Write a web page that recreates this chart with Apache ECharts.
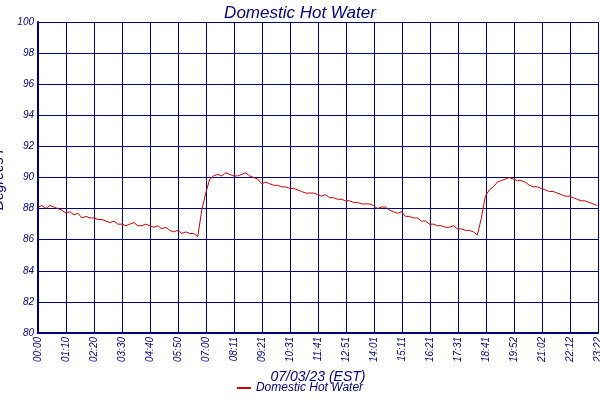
<!DOCTYPE html>
<html>
<head>
<meta charset="utf-8">
<script src="https://cdn.jsdelivr.net/npm/echarts@6/dist/echarts.min.js"></script>
<style>html,body{margin:0;padding:0;background:#fff}#chart{width:600px;height:400px}</style>
</head>
<body>
<div id="chart"></div>
<script>
// x tick labels, one per grid line (every ~70.1 minutes)
var timeLabels = ['00:00','01:10','02:20','03:30','04:40','05:50','07:00','08:11','09:21','10:31',
  '11:41','12:51','14:01','15:11','16:21','17:31','18:41','19:52','21:02','22:12','23:22'];
var yLabels = ['80','82','84','86','88','90','92','94','96','98','100'];
var sampleMinutes = 10;
// temperature, one reading per 10 minutes from 00:00
var temps = [
  88.1,88.2,88.0,88.2,88.1,88.0,87.9,87.7,87.8,87.6,
  87.7,87.4,87.5,87.4,87.4,87.3,87.3,87.2,87.1,87.2,
  87.0,87.0,86.9,87.0,87.1,86.9,86.9,87.0,86.9,86.8,
  86.9,86.7,86.8,86.6,86.5,86.6,86.4,86.5,86.4,86.4,
  86.2,87.9,89.0,89.9,90.1,90.2,90.1,90.3,90.2,90.1,
  90.1,90.2,90.3,90.1,90.0,89.9,89.6,89.7,89.6,89.5,
  89.5,89.4,89.4,89.3,89.3,89.2,89.1,89.0,89.0,89.0,
  88.9,88.8,88.9,88.7,88.7,88.6,88.6,88.5,88.5,88.4,
  88.4,88.3,88.3,88.3,88.2,88.0,88.1,88.1,87.9,87.8,
  87.7,87.8,87.5,87.5,87.4,87.4,87.2,87.2,87.0,87.0,
  86.9,86.9,86.8,86.8,86.9,86.7,86.7,86.6,86.6,86.5,
  86.3,87.4,88.8,89.2,89.4,89.7,89.8,89.9,90.0,89.9,
  89.8,89.8,89.7,89.5,89.4,89.4,89.3,89.2,89.1,89.1,
  89.0,88.9,88.8,88.8,88.7,88.6,88.5,88.5,88.4,88.3,
  88.2
];

var navy = '#00007f';
var seriesData = temps.map(function (v, i) { return [i * sampleMinutes, v]; });
var font = 'Liberation Sans';

var chart = echarts.init(document.getElementById('chart'));
chart.setOption({
  animation: false,
  title: {
    text: 'Domestic Hot Water', left: 'center', top: 0,
    textStyle: { color: navy, fontSize: 17, fontStyle: 'italic', fontWeight: 'normal', fontFamily: font }
  },
  legend: {
    bottom: 1, left: 'center', itemWidth: 14, itemHeight: 2, icon: 'rect',
    textStyle: { color: navy, fontSize: 12, fontStyle: 'italic', fontFamily: font }
  },
  grid: { left: 38, right: 2, top: 22, bottom: 67, containLabel: false, outerBoundsMode: 'none' },
  xAxis: {
    type: 'value', min: 0, max: 1402, interval: 70.1,
    name: '07/03/23 (EST)', nameLocation: 'middle', nameGap: 32,
    nameTextStyle: { color: navy, fontSize: 14, fontStyle: 'italic', fontFamily: font },
    axisLine: { lineStyle: { color: navy, width: 2 } },
    axisTick: { show: false },
    splitLine: { show: true, lineStyle: { color: navy, width: 1 } },
    axisLabel: {
      rotate: 90, color: navy, fontSize: 10, fontStyle: 'italic', fontFamily: font, margin: 4,
      showMaxLabel: true, showMinLabel: true,
      formatter: function (v) { return timeLabels[Math.round(v / 70.1)] || ''; }
    }
  },
  yAxis: {
    type: 'value', min: 80, max: 100, interval: 2,
    name: 'Degrees F', nameLocation: 'middle', nameGap: 24,
    nameTextStyle: { color: navy, fontSize: 14, fontStyle: 'italic', fontFamily: font },
    axisLine: { show: true, lineStyle: { color: navy, width: 2 } },
    axisTick: { show: false },
    splitLine: { show: true, lineStyle: { color: navy, width: 1 } },
    axisLabel: {
      color: navy, fontSize: 10, fontStyle: 'italic', fontFamily: font, margin: 4,
      formatter: function (v) { return yLabels[Math.round((v - 80) / 2)]; }
    }
  },
  series: [{
    name: 'Domestic Hot Water', type: 'line', data: seriesData, showSymbol: false,
    itemStyle: { color: '#cc0000' }, lineStyle: { color: '#cc0000', width: 1 }
  }]
});
</script>
</body>
</html>
